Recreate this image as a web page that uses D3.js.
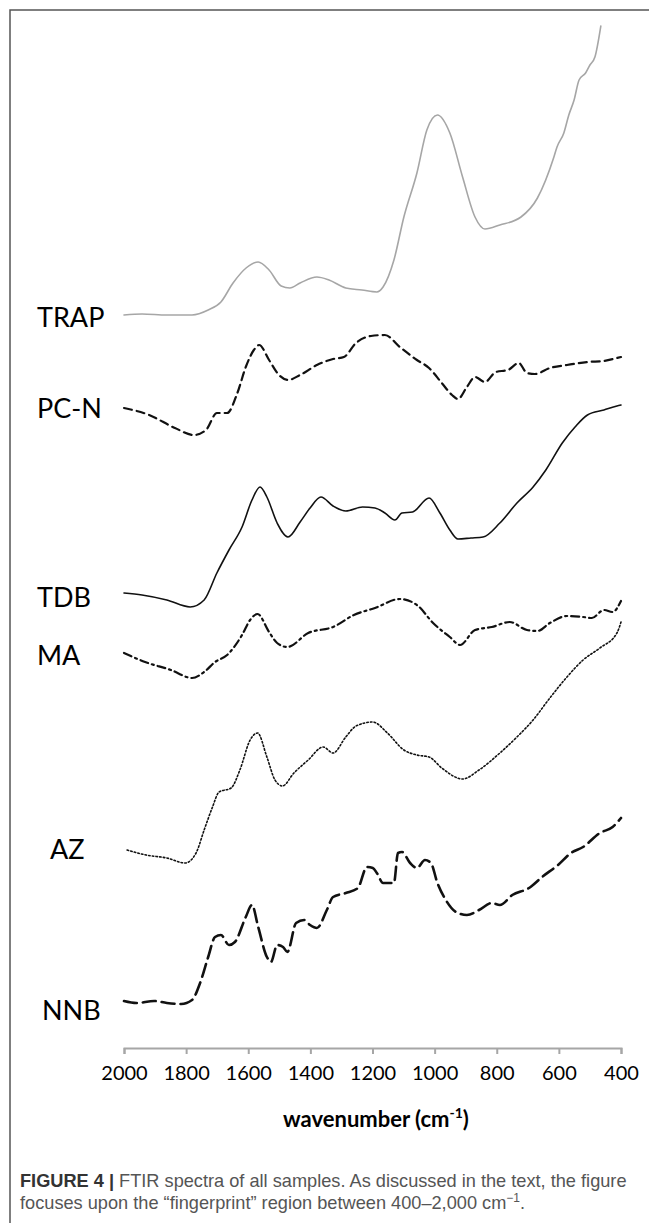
<!DOCTYPE html>
<html>
<head>
<meta charset="utf-8">
<script src="https://cdn.jsdelivr.net/npm/d3@7"></script>
<style>
  html, body { margin: 0; padding: 0; background: #fff; }
  svg { display: block; }
</style>
</head>
<body>
<svg id="chart" width="649" height="1223"></svg>
<script>
// FTIR spectra, stacked (absorbance, arbitrary units with offsets), wavenumber in cm-1
const trap = [[2000,725],[1942,726],[1862,725],[1781,725],[1729,730],[1688,738],[1649,757],[1607,772],[1568,778],[1533,770],[1494,754],[1466,752],[1433,757],[1379,763],[1340,760],[1286,752],[1234,750],[1186,748],[1166,753],[1131,780],[1099,823],[1057,867],[1025,910],[991,925],[951,907],[910,863],[870,823],[838,811],[790,815],[722,823],[669,842],[616,883],[606,893],[584,907],[568,925],[551,940],[535,960],[514,967],[500,975],[484,983],[465,1014]];
const pcn = [[2000,632],[1919,625],[1836,612],[1775,605],[1736,610],[1701,627],[1668,627],[1635,647],[1608,673],[1582,690],[1565,695],[1533,680],[1501,665],[1472,660],[1433,665],[1379,675],[1327,681],[1292,683],[1253,697],[1205,704],[1160,705],[1112,693],[1057,680],[1018,672],[977,657],[944,645],[925,641],[896,653],[870,663],[838,658],[803,668],[764,670],[729,677],[703,667],[677,666],[629,672],[574,675],[508,678],[455,679],[413,682],[400,683]];
const tdb = [[2000,447],[1942,445],[1862,440],[1787,433],[1742,440],[1701,467],[1662,490],[1620,513],[1588,540],[1562,553],[1540,543],[1507,517],[1472,503],[1433,518],[1401,532],[1366,543],[1327,534],[1286,529],[1232,533],[1192,532],[1160,527],[1128,520],[1105,527],[1071,528],[1018,542],[983,527],[951,510],[925,501],[883,502],[844,503],[790,517],[735,537],[683,553],[642,570],[589,597],[548,613],[508,625],[455,630],[413,634],[400,635]];
const ma = [[2000,387],[1932,378],[1849,370],[1781,362],[1742,368],[1707,378],[1668,385],[1620,405],[1594,420],[1570,426],[1533,408],[1507,397],[1474,393],[1407,407],[1327,413],[1260,425],[1192,432],[1112,441],[1057,435],[1005,417],[951,403],[918,395],[870,410],[816,413],[758,418],[703,410],[669,409],[629,417],[574,424],[522,423],[494,422],[455,430],[427,428],[400,439]];
const az = [[1990,190],[1929,185],[1862,182],[1803,177],[1768,187],[1742,210],[1715,233],[1694,248],[1655,252],[1627,270],[1594,300],[1570,307],[1540,283],[1514,260],[1490,254],[1453,267],[1407,280],[1359,293],[1327,287],[1286,303],[1253,314],[1199,318],[1152,307],[1099,290],[1057,285],[1018,283],[977,272],[910,261],[857,270],[790,287],[735,303],[683,320],[629,342],[574,363],[522,380],[468,392],[413,407],[400,418]];
const nnb = [[2000,39],[1960,37],[1903,39],[1862,37],[1816,36],[1781,40],[1755,57],[1729,83],[1707,103],[1688,105],[1662,95],[1643,98],[1608,123],[1588,135],[1568,113],[1540,83],[1527,78],[1507,95],[1488,93],[1474,88],[1446,117],[1420,120],[1401,115],[1379,112],[1347,130],[1327,143],[1286,147],[1247,152],[1218,173],[1199,172],[1186,167],[1166,157],[1131,157],[1118,187],[1105,188],[1079,177],[1057,172],[1031,180],[1012,177],[991,157],[964,140],[931,128],[896,125],[857,130],[816,137],[790,135],[750,145],[696,152],[654,163],[603,175],[561,187],[522,193],[468,207],[427,213],[400,222]];

const sampleNames = ["TRAP", "PC-N", "TDB", "MA", "AZ", "NNB"];
const xTicks = [2000, 1800, 1600, 1400, 1200, 1000, 800, 600, 400];

const spectra = [
  { name: sampleNames[0], data: trap, color: "#a6a6a6", width: 1.6, dash: null,      label: [37, 327] },
  { name: sampleNames[1], data: pcn,  color: "#111",    width: 2.2, dash: "8,5",     label: [37, 418] },
  { name: sampleNames[2], data: tdb,  color: "#111",    width: 1.6, dash: null,      label: [37, 607] },
  { name: sampleNames[3], data: ma,   color: "#111",    width: 2.2, dash: "8,4,2,4", label: [37, 665] },
  { name: sampleNames[4], data: az,   color: "#111",    width: 1.6, dash: "1.5,2.2", label: [50, 859] },
  { name: sampleNames[5], data: nnb,  color: "#111",    width: 2.6, dash: "13,6",    label: [42, 1020] }
];

const svg = d3.select("#chart");

// frame around the figure
svg.append("path")
  .attr("d", "M10,1230 L10,10 L660,10")
  .attr("fill", "none")
  .attr("stroke", "#555")
  .attr("stroke-width", 1.5);

const x = d3.scaleLinear().domain([2000, 400]).range([124, 621]);
const y = d3.scaleLinear().domain([0, 1000]).range([1040, 40]);

const line = d3.line()
  .x(d => x(d[0]))
  .y(d => y(d[1]))
  .curve(d3.curveMonotoneX);

svg.selectAll("path.spectrum")
  .data(spectra)
  .join("path")
  .attr("class", "spectrum")
  .attr("d", d => line(d.data))
  .attr("fill", "none")
  .attr("stroke", d => d.color)
  .attr("stroke-width", d => d.width)
  .attr("stroke-dasharray", d => d.dash)
  .attr("stroke-linecap", "round");

svg.selectAll("text.sample")
  .data(spectra)
  .join("text")
  .attr("class", "sample")
  .attr("x", d => d.label[0])
  .attr("y", d => d.label[1])
  .attr("font-family", "Lato, 'Open Sans', sans-serif")
  .attr("font-size", 27)
  .attr("fill", "#000")
  .text(d => d.name);

// x axis
const axis = svg.append("g")
  .attr("transform", "translate(0,1048)")
  .call(d3.axisBottom(x)
    .tickValues(xTicks)
    .tickFormat(d3.format("d"))
    .tickSize(6).tickPadding(12).tickSizeOuter(6));

axis.select(".domain").attr("stroke", "#a6a6a6").attr("stroke-width", 2);
axis.selectAll(".tick line").attr("stroke", "#a6a6a6").attr("stroke-width", 2);
axis.selectAll(".tick text")
  .attr("font-family", "Lato, 'Open Sans', sans-serif")
  .attr("font-size", 20)
  .attr("fill", "#000");

// axis title
const title = svg.append("text")
  .attr("x", 376)
  .attr("y", 1127)
  .attr("text-anchor", "middle")
  .attr("font-family", "Lato, 'Open Sans', sans-serif")
  .attr("font-weight", "bold")
  .attr("font-size", 22)
  .attr("fill", "#000");
title.append("tspan").text("wavenumber (cm");
title.append("tspan").attr("dy", -9).attr("font-size", 14).text("-1");
title.append("tspan").attr("dy", 9).text(")");

// caption
const cap1 = svg.append("text")
  .attr("x", 20)
  .attr("y", 1187)
  .attr("font-family", "'Liberation Sans', Arial, sans-serif")
  .attr("font-size", 18.2)
  .attr("fill", "#555");
cap1.append("tspan").attr("font-weight", "bold").attr("fill", "#333").text("FIGURE 4 | ");
cap1.append("tspan").text("FTIR spectra of all samples. As discussed in the text, the figure");

const cap2 = svg.append("text")
  .attr("x", 20)
  .attr("y", 1209)
  .attr("font-family", "'Liberation Sans', Arial, sans-serif")
  .attr("font-size", 18.2)
  .attr("fill", "#555");
cap2.append("tspan").text("focuses upon the \u201Cfingerprint\u201D region between 400\u20132,000 cm");
cap2.append("tspan").attr("dy", -7).attr("font-size", 12).text("\u22121");
cap2.append("tspan").attr("dy", 7).text(".");
</script>
</body>
</html>
